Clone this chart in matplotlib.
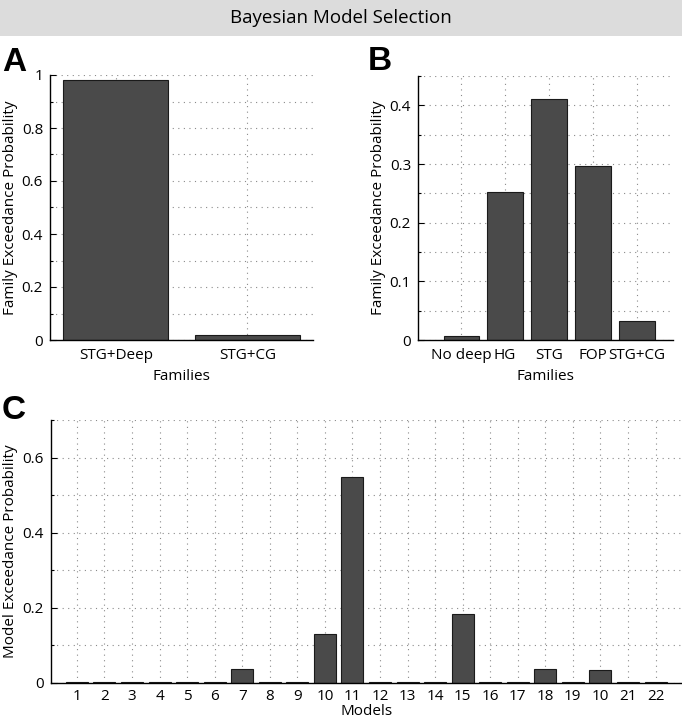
import numpy as np
import matplotlib
matplotlib.use('Agg')
import matplotlib.pyplot as plt
from matplotlib.patches import Rectangle
from matplotlib.ticker import MultipleLocator, FuncFormatter

plt.rcParams['font.family'] = ['Open Sans', 'DejaVu Sans']
plt.rcParams['font.size'] = 11

# 数据
fam_a_labels = ['STG+Deep', 'STG+CG']
fam_a_values = [0.981, 0.019]

fam_b_labels = ['No deep', 'HG', 'STG', 'FOP', 'STG+CG']
fam_b_values = [0.006, 0.253, 0.411, 0.297, 0.033]

model_labels = ['1', '2', '3', '4', '5', '6', '7', '8', '9', '10', '11',
                '12', '13', '14', '15', '16', '17', '18', '19', '10', '21', '22']
model_values = [0.002, 0.002, 0.002, 0.002, 0.0015, 0.002, 0.037, 0.003,
                0.002, 0.131, 0.548, 0.002, 0.003, 0.002, 0.184, 0.002,
                0.0015, 0.036, 0.002, 0.0355, 0.002, 0.002]

bar_color = '#4a4a4a'
grid_kw = dict(color='#8a8a8a', linestyle=(0, (1, 4)), linewidth=0.8)

fig = plt.figure(figsize=(6.82, 7.2), dpi=100)

# 标题栏
fig.patches.append(Rectangle((0, 1 - 36 / 720), 1, 36 / 720, transform=fig.transFigure,
                             facecolor='#dcdcdc', edgecolor='none', zorder=0))
fig.text(0.5, 1 - 18 / 720, 'Bayesian Model Selection', ha='center', va='center', fontsize=13.5)


def style_axis(ax, ymax, ymajor, xlim):
    ax.set_ylim(0, ymax)
    ax.set_xlim(*xlim)
    ax.yaxis.set_major_locator(MultipleLocator(ymajor))
    ax.yaxis.set_minor_locator(MultipleLocator(0.1))
    ax.yaxis.set_major_formatter(FuncFormatter(lambda v, p: '%g' % round(v, 2)))
    ax.spines['top'].set_visible(False)
    ax.spines['right'].set_visible(False)
    ax.spines['left'].set_linewidth(1.0)
    ax.spines['bottom'].set_linewidth(1.0)
    ax.tick_params(axis='both', which='major', direction='in', length=4, width=0.8, labelsize=11)
    ax.tick_params(axis='y', which='minor', direction='in', length=2.5, width=0.8)
    ax.tick_params(axis='y', which='major', pad=5)
    ax.tick_params(axis='x', which='major', length=0, pad=6)
    ax.set_axisbelow(True)
    ax.yaxis.grid(True, which='both', **grid_kw)
    ax.xaxis.grid(True, **grid_kw)


# A
axA = fig.add_axes([50 / 682, 380 / 720, 263 / 682, 265 / 720])
xa = np.arange(1, len(fam_a_values) + 1)
axA.bar(xa, fam_a_values, width=0.8, color=bar_color, edgecolor='#1a1a1a', linewidth=0.8)
style_axis(axA, 1.0, 0.2, (0.5, 2.5))
axA.set_xticks(xa)
axA.set_xticklabels(fam_a_labels)
axA.set_xlabel('Families', fontsize=11, labelpad=4)
axA.set_ylabel('Family Exceedance Probability', fontsize=11, labelpad=3)

# B
axB = fig.add_axes([418 / 682, 380 / 720, 255 / 682, 264 / 720])
xb = np.arange(1, len(fam_b_values) + 1)
axB.bar(xb, fam_b_values, width=0.8, color=bar_color, edgecolor='#1a1a1a', linewidth=0.8)
style_axis(axB, 0.45, 0.1, (0.02, 5.82))
axB.yaxis.set_minor_locator(MultipleLocator(0.05))
axB.set_xticks(xb)
axB.set_xticklabels(fam_b_labels)
axB.set_xlabel('Families', fontsize=11, labelpad=4)
axB.set_ylabel('Family Exceedance Probability', fontsize=11, labelpad=3)

# C
axC = fig.add_axes([50.7 / 682, 37 / 720, 631 / 682, 263 / 720])
xc = np.arange(1, len(model_values) + 1)
axC.bar(xc, model_values, width=0.8, color=bar_color, edgecolor='#1a1a1a', linewidth=0.8)
style_axis(axC, 0.7, 0.2, (0.05, 22.95))
axC.tick_params(axis='x', which='major', pad=4)
axC.set_xticks(xc)
axC.set_xticklabels(model_labels)
axC.set_xlabel('Models', fontsize=11, labelpad=0)
axC.set_ylabel('Model Exceedance Probability', fontsize=11, labelpad=3)

# 面板字母
for letter, x, y in [('A', 2, 71), ('B', 368, 70), ('C', 2, 419)]:
    fig.text(x / 682, 1 - y / 720, letter, fontsize=24, fontweight='bold',
             family='Liberation Sans', ha='left', va='baseline')

fig.savefig('out.png', dpi=100)
